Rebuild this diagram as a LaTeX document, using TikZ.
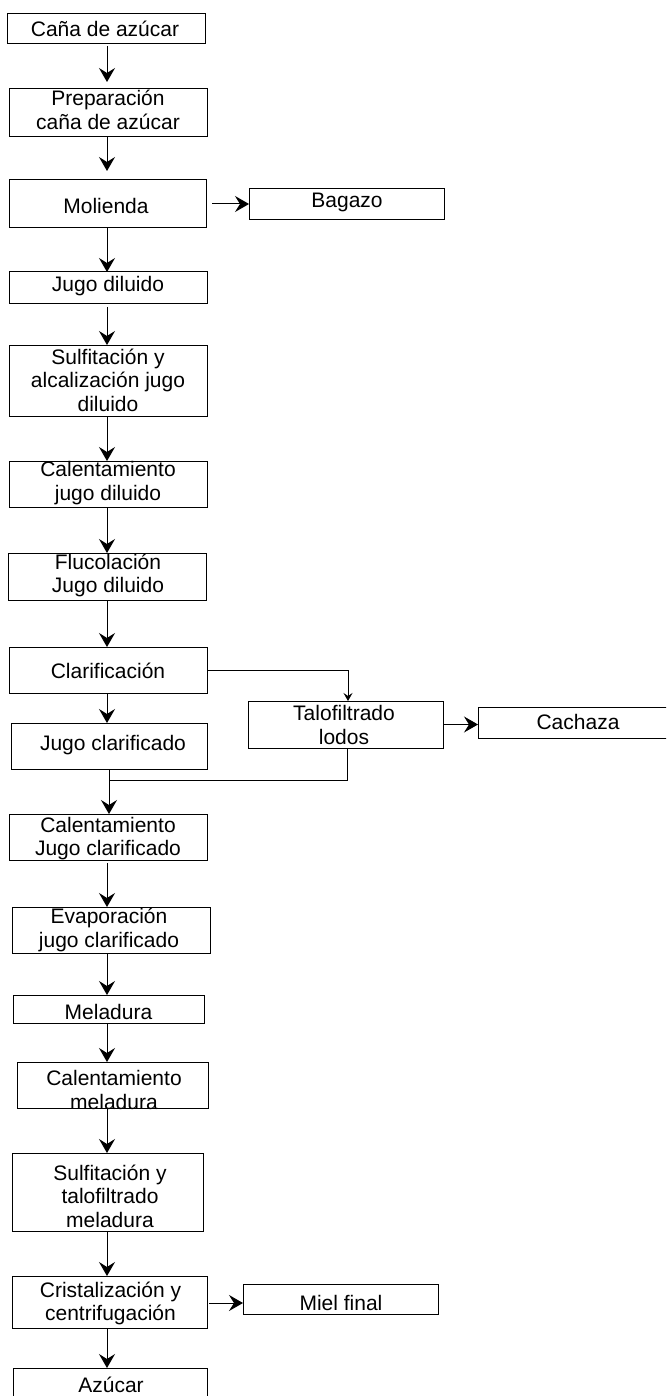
\documentclass[tikz,border=0pt]{standalone}
\usepackage{fontspec}
\setmainfont{Liberation Sans}
\usetikzlibrary{arrows.meta}
\begin{document}
\begin{tikzpicture}[x=1pt,y=-1pt,
  bx/.style 2 args={draw=black,line width=1pt,inner sep=0pt,outer sep=0pt,minimum width=#1,minimum height=#2},
  txt/.style={inner sep=0pt,align=center,font=\fontsize{21}{23.5}\selectfont},
  arr/.style={draw=black,line width=1pt,-{Stealth[length=14pt,width=16pt,inset=5pt]}},
  arrs/.style={draw=black,line width=1pt,-{Stealth[length=8pt,width=9pt,inset=3pt]}},
  ln/.style={draw=black,line width=1pt}]
\useasboundingbox (0,0) rectangle (666,1396);
\clip (0,0) rectangle (666,1396);
\fill[white] (0,0) rectangle (666,1396);
\coordinate (col) at (107,0);
% main column boxes
\node[bx={198pt}{30pt}] (cana) at (106,29) {};
\node[bx={198pt}{48pt}] (prep) at (108,113) {};
\node[bx={197pt}{48pt}] (mol) at (107.5,204) {};
\node[bx={198pt}{32pt}] (jd) at (108,288) {};
\node[bx={198pt}{71pt}] (sulf1) at (108,380.5) {};
\node[bx={198pt}{46pt}] (cal1) at (108,484) {};
\node[bx={198pt}{47pt}] (fluc) at (107,576.5) {};
\node[bx={198pt}{46pt}] (clar) at (108,670) {};
\node[bx={196pt}{46pt}] (jc) at (109,746) {};
\node[bx={198pt}{46pt}] (cal2) at (108,837) {};
\node[bx={198pt}{46pt}] (evap) at (111,930) {};
\node[bx={191pt}{28pt}] (mel) at (108.5,1009) {};
\node[bx={191pt}{46pt}] (calm) at (112.5,1085) {};
\node[bx={191pt}{78pt}] (sulf2) at (107.5,1192) {};
\node[bx={195pt}{52pt}] (crist) at (109.5,1302) {};
\node[bx={194pt}{52pt}] (azu) at (110,1394) {};
% side boxes
\node[bx={195pt}{31pt}] (bag) at (346.5,204.5) {};
\node[bx={195pt}{47pt}] (talo) at (345.5,724.5) {};
\node[bx={200pt}{31pt}] (cach) at (578,722.5) {};
\node[bx={195pt}{30pt}] (miel) at (340.5,1299) {};
% texts
\node[txt] (tcana) at (105,29) {Caña de azúcar};
\node[txt] (tprep) at (108,110) {Preparación\\caña de azúcar};
\node[txt] (tmol) at (106,206) {Molienda};
\node[txt] (tbag) at (347,202) {Bagazo};
\node[txt] (tjd) at (108,286) {Jugo diluido};
\node[txt] (tsulf1) at (108,380) {Sulfitación y\\alcalización jugo\\diluido};
\node[txt] (tcal1) at (108,483) {Calentamiento\\jugo diluido};
\node[txt] (tfluc) at (108,575.5) {Flucolación\\Jugo diluido};
\node[txt] (tclar) at (108,671) {Clarificación};
\node[txt] (ttalo) at (344,725) {Talofiltrado\\lodos};
\node[txt] (tcach) at (578,722) {Cachaza};
\node[txt] (tjc) at (113,745) {Jugo clarificado};
\node[txt] (tcal2) at (108,838.5) {Calentamiento\\Jugo clarificado};
\node[txt] (tevap) at (109,930) {Evaporación\\jugo clarificado};
\node[txt] (tmel) at (108.5,1012) {Meladura};
\node[txt] (tcalm) at (114,1090) {Calentamiento\\meladura};
\node[txt] (tsulf2) at (110,1196) {Sulfitación y\\talofiltrado\\meladura};
\node[txt] (tcrist) at (110.5,1303.5) {Cristalización y\\centrifugación};
\node[txt] (tmiel) at (341,1303) {Miel final};
\node[txt] (tazu) at (111,1385) {Azúcar};
% main arrows
\draw[arr,shorten >=7pt,shorten <=2pt] (cana.south -| col) -- (prep.north -| col);
\draw[arr,shorten >=9pt] (prep.south -| col) -- (mol.north -| col);
\draw[arr] (mol.south -| col) -- (jd.north -| col);
\draw[arr,shorten <=3pt] (jd.south -| col) -- (sulf1.north -| col);
\draw[arr] (sulf1.south -| col) -- (cal1.north -| col);
\draw[arr] (cal1.south -| col) -- (fluc.north -| col);
\draw[arr] (fluc.south -| col) -- (clar.north -| col);
\draw[arr] (clar.south -| col) -- (jc.north -| col);
\coordinate (merge) at (109,780);
\draw[arr] (jc.south -| merge) -- (cal2.north -| merge);
\draw[ln] ([xshift=1.5pt]talo.south) |- (merge);
\draw[arrs] (clar.east) -| ([xshift=2.5pt]talo.north);
\draw[arr,shorten <=3pt] (cal2.south -| col) -- (evap.north -| col);
\draw[arr] (evap.south -| col) -- (mel.north -| col);
\draw[arr] (mel.south -| col) -- (calm.north -| col);
\draw[arr] (calm.south -| col) -- (sulf2.north -| col);
\draw[arr] (sulf2.south -| col) -- (crist.north -| col);
\draw[arr] (crist.south -| col) -- (azu.north -| col);
% side arrows
\draw[arr,shorten <=6pt] (mol.east) -- (mol.east -| bag.west);
\draw[arr] (talo.east) -- (talo.east -| cach.west);
\draw[arr,shorten <=2pt] ([yshift=-1pt]crist.east) -- ([yshift=-1pt]crist.east -| miel.west);
\end{tikzpicture}
\end{document}
